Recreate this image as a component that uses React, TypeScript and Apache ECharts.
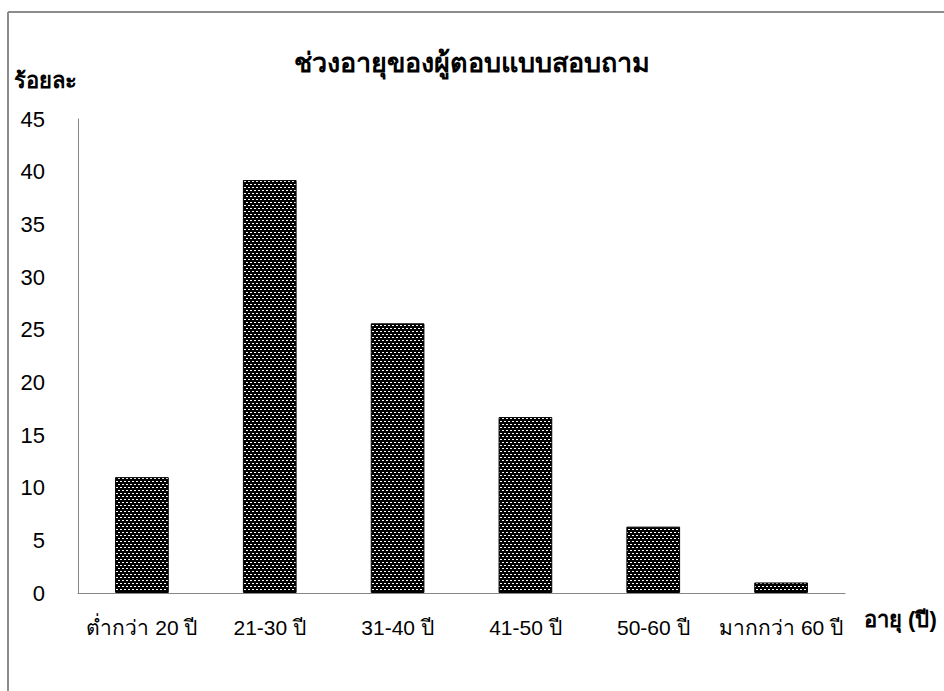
import React, { useEffect, useRef } from "react";
import * as echarts from "echarts";

// Age groups of the respondents and their share in percent
const categories = ["ต่ำกว่า 20 ปี", "21-30 ปี", "31-40 ปี", "41-50 ปี", "50-60 ปี", "มากกว่า 60 ปี"];
const percentages = [11.0, 39.2, 25.6, 16.7, 6.3, 1.0];
const yMin = 0;
const yMax = 45;
const yStep = 5;

const titleText = "ช่วงอายุของผู้ตอบแบบสอบถาม";
const yAxisTitle = "ร้อยละ";
const xAxisTitle = "อายุ (ปี)";

const FONT = "'Liberation Sans Narrow', 'Liberation Sans', 'Noto Sans', sans-serif";

// Black fill sprinkled with small white dashes, like a dotted hatch
function makeHatch(): HTMLCanvasElement {
  const c = document.createElement("canvas");
  c.width = 4;
  c.height = 6;
  const ctx = c.getContext("2d")!;
  ctx.fillStyle = "#000";
  ctx.fillRect(0, 0, 4, 6);
  ctx.fillStyle = "#fff";
  ctx.fillRect(0, 1, 2, 1);
  ctx.fillRect(2, 4, 2, 1);
  return c;
}

export default function App() {
  const ref = useRef<HTMLDivElement>(null);

  useEffect(() => {
    if (!ref.current) return;
    const chart = echarts.init(ref.current, undefined, { renderer: "svg" });
    const hatch = makeHatch();

    chart.setOption({
      animation: false,
      backgroundColor: "#fff",
      title: {
        text: titleText,
        left: "center",
        top: 44,
        textStyle: { fontFamily: FONT, fontSize: 27, fontWeight: "bold", color: "#000" },
      },
      grid: { left: 78, right: 99, top: 119, bottom: 98, containLabel: false },
      xAxis: {
        type: "category",
        data: categories,
        axisLine: { show: true, lineStyle: { color: "#868686", width: 1 } },
        axisTick: { show: false },
        axisLabel: {
          interval: 0,
          margin: 24,
          fontFamily: FONT,
          fontSize: 21,
          color: "#000",
        },
      },
      yAxis: {
        type: "value",
        min: yMin,
        max: yMax,
        interval: yStep,
        axisLine: { show: true, lineStyle: { color: "#868686", width: 1 } },
        axisTick: { show: false },
        splitLine: { show: false },
        axisLabel: {
          margin: 33,
          fontFamily: FONT,
          fontSize: 22,
          color: "#000",
        },
      },
      series: [
        {
          type: "bar",
          data: percentages,
          barCategoryGap: "58%",
          itemStyle: {
            color: { image: hatch, repeat: "repeat" },
            borderColor: "#000",
            borderWidth: 1,
          },
        },
      ],
      graphic: [
        {
          type: "line",
          shape: { x1: 8, y1: 12, x2: 944, y2: 12 },
          style: { stroke: "#8c8c8c", lineWidth: 2 },
          silent: true,
        },
        {
          type: "line",
          shape: { x1: 8, y1: 12, x2: 8, y2: 691 },
          style: { stroke: "#8c8c8c", lineWidth: 2 },
          silent: true,
        },
        {
          type: "text",
          left: 14,
          top: 69,
          style: {
            text: yAxisTitle,
            fontFamily: FONT,
            fontSize: 22,
            fontWeight: "bold",
            fill: "#000",
          },
        },
        {
          type: "text",
          left: 864,
          top: 608,
          style: {
            text: xAxisTitle,
            fontFamily: FONT,
            fontSize: 22,
            fontWeight: "bold",
            fill: "#000",
          },
        },
      ],
    });

    return () => chart.dispose();
  }, []);

  return (
    <div
      ref={ref}
      style={{ position: "fixed", left: 0, top: 0, width: 944, height: 691 }}
    />
  );
}
